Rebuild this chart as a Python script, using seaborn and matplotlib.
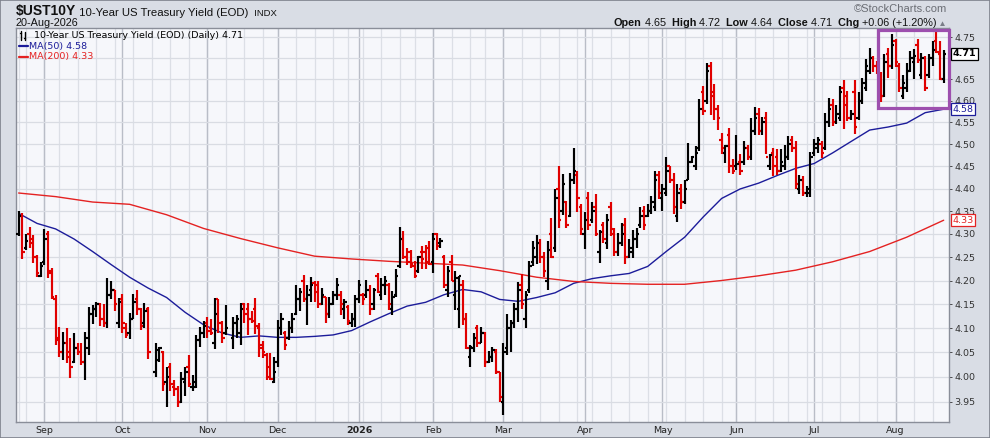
import numpy as np
import pandas as pd
import matplotlib
matplotlib.use("Agg")
import matplotlib.pyplot as plt
import seaborn as sns
from matplotlib.lines import Line2D
from matplotlib.patches import Rectangle
import matplotlib.transforms as mtransforms

# trading calendar (NYSE holidays)
holidays = ["2025-09-01", "2025-11-27", "2025-12-25", "2026-01-01", "2026-01-19",
            "2026-02-16", "2026-04-03", "2026-05-25", "2026-06-19", "2026-07-03"]
dates = pd.bdate_range("2025-08-21", "2026-08-20", freq="C", holidays=holidays)

# daily OHLC (None = no quote that day)
opens = [
    4.30, 4.34, 4.27, 4.30, 4.29, 4.25, 4.21, 4.24, 4.30, 4.22,
    4.16, 4.08, 4.05, 4.07, 4.05, 4.03, 4.06, 4.05, 4.03, 4.06,
    4.13, 4.14, 4.15, 4.12, 4.11, 4.17, 4.18, 4.11, 4.16, 4.10,
    4.09, 4.12, 4.16, 4.14, 4.11, 4.14, None, 4.01, 4.035, 4.05,
    3.99, 4.02, 3.98, 3.975, 3.95, 3.99, 4.02, 3.98, 3.98, 4.075,
    4.09, 4.11, 4.10, 4.07, 4.16, 4.11, 4.09, None, 4.08, 4.11,
    4.09, 4.15, 4.14, 4.12, 4.14, 4.10, 4.06, 4.045, 4.02, 3.99,
    4.03, 4.10, 4.09, 4.08, 4.10, 4.13, 4.16, 4.20, 4.16, 4.18,
    4.195, 4.19, 4.15, 4.165, 4.13, 4.15, 4.17, 4.17, 4.14, 4.145,
    4.11, 4.12, 4.16, 4.17, 4.17, 4.18, 4.15, 4.21, 4.17, 4.19,
    4.19, 4.14, 4.17, 4.23, 4.29, 4.25, 4.26, 4.23, 4.22, 4.26,
    4.26, 4.27, 4.24, 4.30, 4.28, 4.25, 4.18, 4.24, 4.17, 4.14,
    4.19, 4.12, 4.04, 4.06, 4.10, 4.07, 4.09, 4.03, 4.04, 4.05,
    4.01, 3.95, 4.06, 4.10, 4.11, 4.14, 4.19, 4.12, 4.18, 4.24,
    4.25, 4.28, 4.25, 4.20, 4.30, 4.27, 4.40, 4.35, 4.37, 4.34,
    4.42, 4.43, 4.36, 4.30, 4.38, 4.33, 4.36, 4.26, 4.32, 4.28,
    4.36, 4.30, 4.26, 4.28, 4.32, 4.25, 4.26, 4.29, 4.32, 4.35,
    4.34, 4.35, 4.36, 4.43, 4.38, 4.39, 4.45, 4.42, 4.34, 4.40,
    4.37, 4.42, 4.46, 4.45, 4.49, 4.62, 4.60, 4.68, 4.62, 4.58,
    4.51, 4.48, 4.52, 4.45, 4.45, 4.46, 4.46, 4.49, 4.47, 4.53,
    4.57, 4.53, 4.56, 4.45, 4.48, 4.47, 4.44, 4.45, 4.47, 4.51,
    4.49, 4.40, 4.42, 4.39, 4.39, 4.48, 4.49, 4.50, 4.49, 4.55,
    4.59, 4.55, 4.56, 4.63, 4.61, 4.56, 4.62, 4.56, 4.60, 4.63,
    4.67, 4.70, 4.68, 4.66, 4.61, 4.71, 4.68, 4.74, 4.68, 4.61,
    4.63, 4.67, 4.69, 4.73, 4.66, 4.70, 4.66, 4.70, 4.74, 4.71,
    4.65,
]
highs = [
    4.35, 4.345, 4.30, 4.316, 4.297, 4.255, 4.24, 4.311, 4.306, 4.226,
    4.169, 4.103, 4.093, 4.10, 4.079, 4.09, 4.069, 4.069, 4.093, 4.145,
    4.148, 4.155, 4.152, 4.15, 4.205, 4.20, 4.18, 4.162, 4.171, 4.11,
    4.131, 4.171, 4.18, 4.141, 4.152, 4.145, None, 4.07, 4.062, 4.053,
    4.021, 4.028, 3.994, 3.981, 4.011, 4.021, 4.045, 4.004, 4.086, 4.103,
    4.114, 4.124, 4.12, 4.164, 4.161, 4.114, 4.148, None, 4.124, 4.128,
    4.152, 4.152, 4.152, 4.135, 4.164, 4.11, 4.073, 4.048, 4.048, 4.041,
    4.117, 4.131, 4.094, 4.114, 4.131, 4.191, 4.184, 4.211, 4.191, 4.208,
    4.198, 4.198, 4.184, 4.166, 4.166, 4.177, 4.205, 4.177, 4.16, 4.148,
    4.131, 4.17, 4.201, 4.174, 4.201, 4.191, 4.184, 4.215, 4.205, 4.21,
    4.195, 4.177, 4.224, 4.316, 4.306, 4.27, 4.266, 4.241, 4.252, 4.273,
    4.277, 4.284, 4.302, 4.302, 4.291, 4.255, 4.231, 4.255, 4.22, 4.21,
    4.201, 4.131, 4.066, 4.09, 4.107, 4.103, 4.093, 4.052, 4.062, 4.058,
    4.011, 4.069, 4.13, 4.117, 4.153, 4.197, 4.214, 4.177, 4.242, 4.284,
    4.298, 4.288, 4.26, 4.284, 4.334, 4.399, 4.45, 4.432, 4.373, 4.435,
    4.49, 4.439, 4.366, 4.348, 4.392, 4.37, 4.388, 4.309, 4.326, 4.344,
    4.37, 4.312, 4.302, 4.323, 4.334, 4.288, 4.309, 4.312, 4.359, 4.362,
    4.366, 4.384, 4.439, 4.439, 4.41, 4.47, 4.451, 4.434, 4.409, 4.411,
    4.42, 4.503, 4.474, 4.495, 4.604, 4.635, 4.688, 4.69, 4.639, 4.589,
    4.525, 4.498, 4.536, 4.466, 4.521, 4.477, 4.506, 4.499, 4.559, 4.585,
    4.582, 4.563, 4.574, 4.477, 4.492, 4.488, 4.488, 4.499, 4.518, 4.518,
    4.506, 4.431, 4.428, 4.406, 4.483, 4.512, 4.516, 4.508, 4.571, 4.606,
    4.604, 4.589, 4.635, 4.647, 4.623, 4.578, 4.647, 4.619, 4.654, 4.697,
    4.725, 4.705, 4.693, 4.666, 4.709, 4.725, 4.757, 4.745, 4.689, 4.66,
    4.689, 4.717, 4.721, 4.745, 4.713, 4.705, 4.709, 4.741, 4.762, 4.741,
    4.72,
]
lows = [
    4.295, 4.246, 4.265, 4.27, 4.237, 4.207, 4.207, 4.233, 4.205, 4.16,
    4.065, 4.041, 4.034, 4.028, 3.998, 4.028, 4.045, 4.024, 3.994, 4.045,
    4.109, 4.123, 4.105, 4.103, 4.10, 4.16, 4.135, 4.10, 4.09, 4.08,
    4.077, 4.12, 4.128, 4.096, 4.10, 4.036, None, 4.00, 4.031, 3.971,
    3.94, 3.971, 3.961, 3.94, 3.948, 3.961, 3.98, 3.971, 3.977, 4.062,
    4.079, 4.08, 4.085, 4.058, 4.09, 4.069, 4.086, None, 4.058, 4.079,
    4.065, 4.11, 4.086, 4.11, 4.088, 4.041, 4.038, 3.994, 3.994, 3.987,
    4.021, 4.086, 4.055, 4.075, 4.09, 4.128, 4.135, 4.155, 4.107, 4.155,
    4.155, 4.141, 4.148, 4.11, 4.121, 4.148, 4.159, 4.128, 4.12, 4.107,
    4.103, 4.103, 4.152, 4.148, 4.163, 4.128, 4.138, 4.174, 4.159, 4.17,
    4.138, 4.128, 4.166, 4.227, 4.245, 4.234, 4.227, 4.205, 4.217, 4.224,
    4.224, 4.234, 4.217, 4.266, 4.27, 4.184, 4.166, 4.198, 4.138, 4.10,
    4.107, 4.058, 4.021, 4.05, 4.062, 4.069, 4.021, 4.028, 4.031, 4.007,
    3.95, 3.924, 4.044, 4.05, 4.101, 4.113, 4.14, 4.10, 4.174, 4.231,
    4.235, 4.238, 4.207, 4.18, 4.249, 4.26, 4.312, 4.341, 4.312, 4.337,
    4.41, 4.348, 4.298, 4.267, 4.309, 4.323, 4.295, 4.238, 4.281, 4.267,
    4.295, 4.253, 4.253, 4.274, 4.235, 4.249, 4.249, 4.27, 4.312, 4.309,
    4.337, 4.344, 4.351, 4.377, 4.35, 4.384, 4.413, 4.344, 4.326, 4.355,
    4.366, 4.42, 4.456, 4.441, 4.484, 4.567, 4.593, 4.567, 4.555, 4.532,
    4.477, 4.456, 4.434, 4.432, 4.441, 4.431, 4.452, 4.463, 4.463, 4.521,
    4.521, 4.521, 4.477, 4.441, 4.427, 4.431, 4.438, 4.441, 4.463, 4.481,
    4.399, 4.388, 4.384, 4.381, 4.381, 4.472, 4.479, 4.468, 4.486, 4.538,
    4.541, 4.545, 4.552, 4.534, 4.552, 4.556, 4.523, 4.556, 4.593, 4.623,
    4.662, 4.666, 4.662, 4.597, 4.608, 4.654, 4.674, 4.678, 4.62, 4.604,
    4.619, 4.666, 4.651, 4.689, 4.651, 4.623, 4.654, 4.682, 4.713, 4.647,
    4.64,
]
closes = [
    4.34, 4.26, 4.285, 4.28, 4.25, 4.215, 4.23, 4.29, 4.215, 4.165,
    4.075, 4.05, 4.07, 4.04, 4.02, 4.06, 4.05, 4.03, 4.08, 4.13,
    4.14, 4.15, 4.12, 4.11, 4.17, 4.18, 4.15, 4.155, 4.11, 4.085,
    4.12, 4.155, 4.14, 4.105, 4.135, 4.05, None, 4.055, 4.06, 3.985,
    4.00, 3.985, 3.975, 3.95, 3.995, 4.01, 3.985, 3.99, 4.075, 4.09,
    4.105, 4.095, 4.09, 4.13, 4.11, 4.08, 4.10, None, 4.11, 4.12,
    4.14, 4.13, 4.12, 4.115, 4.105, 4.065, 4.05, 4.00, 3.995, 4.01,
    4.10, 4.12, 4.065, 4.10, 4.12, 4.16, 4.175, 4.16, 4.17, 4.19,
    4.175, 4.15, 4.17, 4.13, 4.15, 4.17, 4.19, 4.15, 4.155, 4.115,
    4.12, 4.16, 4.19, 4.16, 4.18, 4.14, 4.18, 4.175, 4.19, 4.20,
    4.15, 4.165, 4.21, 4.29, 4.25, 4.24, 4.235, 4.21, 4.25, 4.245,
    4.24, 4.236, 4.29, 4.275, 4.285, 4.19, 4.22, 4.20, 4.205, 4.21,
    4.12, 4.06, 4.062, 4.08, 4.07, 4.09, 4.03, 4.04, 4.055, 4.01,
    3.96, 4.05, 4.10, 4.11, 4.14, 4.18, 4.15, 4.17, 4.23, 4.27,
    4.28, 4.25, 4.22, 4.265, 4.25, 4.38, 4.33, 4.41, 4.32, 4.42,
    4.44, 4.38, 4.31, 4.33, 4.32, 4.35, 4.30, 4.305, 4.29, 4.33,
    4.31, 4.26, 4.28, 4.30, 4.25, 4.27, 4.29, 4.30, 4.34, 4.32,
    4.35, 4.37, 4.42, 4.39, 4.40, 4.44, 4.42, 4.36, 4.39, 4.37,
    4.40, 4.46, 4.47, 4.48, 4.58, 4.575, 4.67, 4.61, 4.58, 4.56,
    4.49, 4.495, 4.45, 4.44, 4.455, 4.44, 4.49, 4.47, 4.53, 4.56,
    4.53, 4.55, 4.47, 4.475, 4.45, 4.44, 4.46, 4.47, 4.50, 4.49,
    4.41, 4.42, 4.39, 4.40, 4.47, 4.50, 4.51, 4.48, 4.55, 4.58,
    4.55, 4.57, 4.62, 4.59, 4.56, 4.57, 4.54, 4.60, 4.64, 4.68,
    4.70, 4.68, 4.67, 4.61, 4.69, 4.68, 4.73, 4.69, 4.63, 4.64,
    4.67, 4.70, 4.705, 4.695, 4.70, 4.63, 4.70, 4.72, 4.715, 4.65,
    4.71,
]

# moving averages, every 5th / 10th bar
ma50 = [4.345, 4.323, 4.311, 4.289, 4.262, 4.234, 4.207, 4.184, 4.164, 4.133,
        4.107, 4.090, 4.081, 4.084, 4.081, 4.081, 4.083, 4.086, 4.095, 4.113,
        4.130, 4.146, 4.154, 4.170, 4.181, 4.176, 4.160, 4.156, 4.164, 4.174,
        4.194, 4.204, 4.210, 4.215, 4.230, 4.262, 4.293, 4.337, 4.378, 4.399,
        4.412, 4.429, 4.445, 4.456, 4.480, 4.506, 4.532, 4.539, 4.548, 4.572,
        4.580]
ma200 = [4.390, 4.382, 4.370, 4.365, 4.342, 4.312, 4.290, 4.270, 4.252, 4.246,
         4.241, 4.237, 4.233, 4.221, 4.207, 4.198, 4.194, 4.192, 4.192, 4.200,
         4.210, 4.222, 4.240, 4.262, 4.293, 4.330]

yticks = [3.95, 4.00, 4.05, 4.10, 4.15, 4.20, 4.25, 4.30, 4.35, 4.40,
          4.45, 4.50, 4.55, 4.60, 4.65, 4.70, 4.75]

df = pd.DataFrame({"date": dates, "open": opens, "high": highs,
                   "low": lows, "close": closes})
df["pos"] = np.arange(len(df))

sns.set_theme(style="white")
plt.rcParams["font.family"] = ["DejaVu Sans"]

W, H = 990, 438
fig = plt.figure(figsize=(W / 100, H / 100), dpi=100)
fig.patch.set_facecolor("#d9dde5")
ax = fig.add_axes([16 / W, 1 - 422 / H, (948.5 - 16) / W, (422 - 28) / H])
ax.set_facecolor("#f6f7fb")
ax.set_yscale("log")
ax.set_xlim(-0.7, 251.3)
ax.set_ylim(3.910, 4.772)

# grid: weekly and monthly verticals, horizontal at each tick
week_pos = df.groupby(df.date.dt.to_period("W")).pos.first()
month_first = df.groupby(df.date.dt.to_period("M")).pos.first()
month_first = month_first[month_first > 0]
for p in week_pos:
    ax.axvline(p, color="#dcdfe6", lw=0.9, zorder=0)
for p in month_first:
    ax.axvline(p, color="#b9bdc7", lw=1.0, zorder=0)
for v in yticks:
    ax.axhline(v, color="#d9dce3", lw=0.9, zorder=0)

# moving averages
sns.lineplot(x=df.pos.values[::5], y=ma50, ax=ax, color="#1c1c9a", lw=1.0, zorder=2)
sns.lineplot(x=df.pos.values[::10], y=ma200, ax=ax, color="#e42222", lw=1.0, zorder=2)

# OHLC bars, coloured by change from previous close
bars = df.dropna(subset=["close"]).copy()
prev = bars.close.shift(1)
bars["col"] = np.where((bars.close >= prev) | prev.isna(), "#000000", "#e00000")
lw = 1.55
ax.vlines(bars.pos, bars.low, bars.high, colors=bars.col, lw=lw, zorder=3)
ax.hlines(bars.open, bars.pos - 0.65, bars.pos, colors=bars.col, lw=lw, zorder=3)
ax.hlines(bars.close, bars.pos, bars.pos + 0.65, colors=bars.col, lw=lw, zorder=3)

# highlight box over the last weeks
box = bars[bars.date >= "2026-07-28"]
y0 = box.low.min() - 0.014
y1 = box.high.max() + 0.004
ax.add_patch(Rectangle((box.pos.min() - 0.8, y0), ax.get_xlim()[1] - box.pos.min() + 0.8,
                       y1 - y0, fill=False, ec="#9d4fae", lw=2.3, zorder=5, clip_on=False))

# axes styling; the 4.70 label sits under the last-close box in the original
ylabels = ["" if v == 4.70 else f"{v:.2f}" for v in yticks]
ax.set_yticks(yticks, labels=ylabels)
ax.minorticks_off()
ax.yaxis.tick_right()
ax.tick_params(axis="y", labelsize=6.8, length=2, pad=2, colors="#333333", width=0.6)
labels = ["2026" if d.month == 1 else d.strftime("%b") for d in df.date[month_first.values]]
ax.set_xticks(month_first.values, labels=labels)
ax.tick_params(axis="x", labelsize=6.8, length=0, pad=3, colors="#222222")
for t in ax.get_xticklabels():
    if t.get_text() == "2026":
        t.set_fontweight("bold")
for s in ax.spines.values():
    s.set_color("#8a8e99")
    s.set_linewidth(1.0)

# value boxes on the right axis
blend = mtransforms.blended_transform_factory(ax.transAxes, ax.transData)
xb = 1 + 4 / 932
ax.text(xb, closes[-1], f"{closes[-1]:.2f}", transform=blend, ha="left", va="center",
        fontsize=6.8, fontweight="bold", color="black", zorder=6,
        bbox=dict(boxstyle="square,pad=0.15", fc="white", ec="black", lw=0.9))
ax.text(xb, ma50[-1], f"{ma50[-1]:.2f}", transform=blend, ha="left", va="center",
        fontsize=6.8, color="#1c1c9a", zorder=6,
        bbox=dict(boxstyle="square,pad=0.15", fc="white", ec="#1c1c9a", lw=0.9))
ax.text(xb, ma200[-1], f"{ma200[-1]:.2f}", transform=blend, ha="left", va="center",
        fontsize=6.8, color="#e42222", zorder=6,
        bbox=dict(boxstyle="square,pad=0.15", fc="white", ec="#e42222", lw=0.9))

# legend inside the plot
def fx(px):
    return px / W

def fy(py):
    return 1 - py / H

for xs, top, bot, tick in [(21, 31, 40, 33), (25, 32, 40, 38)]:
    fig.add_artist(Line2D([fx(xs), fx(xs)], [fy(top), fy(bot)], color="black", lw=1.0))
    fig.add_artist(Line2D([fx(xs - 1.5), fx(xs)], [fy(tick), fy(tick)], color="black", lw=1.0))
fig.text(fx(34), fy(35.5), f"10-Year US Treasury Yield (EOD) (Daily) {closes[-1]:.2f}",
         fontsize=6.8, color="black", va="center")
fig.add_artist(Line2D([fx(19), fx(28)], [fy(46), fy(46)], color="#1c1c9a", lw=1.6))
fig.text(fx(29), fy(46), f"MA(50) {ma50[-1]:.2f}", fontsize=6.8, color="#1c1c9a", va="center")
fig.add_artist(Line2D([fx(19), fx(28)], [fy(56.5), fy(56.5)], color="#e42222", lw=1.6))
fig.text(fx(29), fy(56.5), f"MA(200) {ma200[-1]:.2f}", fontsize=6.8, color="#e42222", va="center")

# header
renderer = fig.canvas.get_renderer()
arial = ["Liberation Sans", "DejaVu Sans"]

def row_left(x, y, pieces):
    for s, kw in pieces:
        t = fig.text(fx(x), fy(y), s, ha="left", va="baseline", family=arial, **kw)
        x += t.get_window_extent(renderer).width
    return x

def row_right(x, y, pieces):
    for s, kw in reversed(pieces):
        t = fig.text(fx(x), fy(y), s, ha="right", va="baseline", family=arial, **kw)
        x -= t.get_window_extent(renderer).width
    return x

row_left(16, 15.5, [("$UST10Y", dict(fontsize=10, fontweight="bold", color="#111111")),
                    (" 10-Year US Treasury Yield (EOD)", dict(fontsize=8.2, color="#111111")),
                    ("  INDX", dict(fontsize=6.8, color="#111111"))])
fig.text(fx(16), fy(25.5), "20-Aug-2026", ha="left", va="baseline", family=arial,
         fontsize=7.8, color="#111111")
fig.text(fx(947), fy(12.5), "\u00a9StockCharts.com", ha="right", va="baseline",
         family=arial, fontsize=8, color="#6b6e75")
b = dict(fontsize=7.8, fontweight="bold", color="#111111")
n = dict(fontsize=7.8, color="#111111")
row_right(947, 25.5, [("Open", b), (" 4.65", n), ("  High", b), (" 4.72", n),
                      ("  Low", b), (" 4.64", n), ("  Close", b), (" 4.71", n),
                      ("  Chg", b), (" +0.06 (+1.20%)", n),
                      (" \u25b2", dict(fontsize=6, color="#7a7e88"))])

fig.add_artist(Rectangle((0, 0), 1, 1, transform=fig.transFigure, fill=False,
                         ec="#7d818c", lw=1.2))

fig.savefig("out.png", dpi=100, facecolor=fig.get_facecolor())
